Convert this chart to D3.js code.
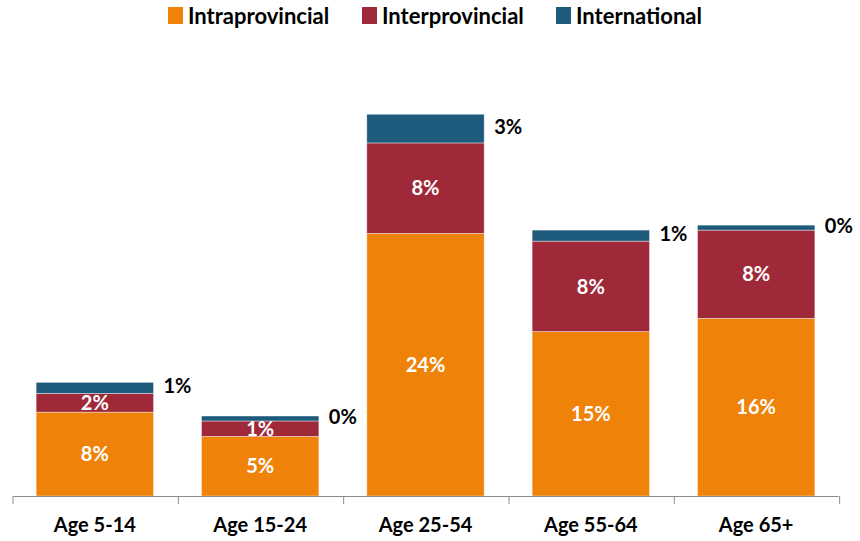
<!DOCTYPE html>
<html>
<head>
<meta charset="utf-8">
<script src="https://cdn.jsdelivr.net/npm/d3@7"></script>
<style>
  body { margin: 0; background: #fff; }
  text { font-family: Lato, "Open Sans", sans-serif; font-weight: bold; }
</style>
</head>
<body>
<svg id="chart" width="860" height="541"></svg>
<script>
// data (percent)
const ageGroups = ["Age 5-14", "Age 15-24", "Age 25-54", "Age 55-64", "Age 65+"];
const intraprovincial = [7.6, 5.4, 23.8, 14.9, 16.1];
const interprovincial = [1.7, 1.4, 8.2, 8.2, 8.0];
const international = [1.0, 0.45, 2.6, 1.0, 0.45];
const seriesNames = ["Intraprovincial", "Interprovincial", "International"];
const seriesColors = ["#ef8209", "#9f2938", "#1e5a7c"];

const table = ageGroups.map((g, i) => ({
    group: g,
    Intraprovincial: intraprovincial[i],
    Interprovincial: interprovincial[i],
    International: international[i]
}));

var margin = {top: 165, right: 22, bottom: 45, left: 13},
    width = 860 - margin.left - margin.right,
    height = 541 - margin.top - margin.bottom;

const svg = d3.select("#chart");
const g = svg.append("g")
    .attr("transform", "translate(" + margin.left + "," + margin.top + ")");

const x = d3.scaleBand()
    .domain(ageGroups)
    .range([0, width])
    .paddingInner(0.29)
    .paddingOuter(0.14);

const y = d3.scaleLinear()
    .domain([0, 30])
    .range([height, 0]);

const color = d3.scaleOrdinal().domain(seriesNames).range(seriesColors);

const stacked = d3.stack().keys(seriesNames)(table);

const layers = g.selectAll("g.layer")
    .data(stacked)
    .enter().append("g")
    .attr("class", "layer")
    .style("fill", d => color(d.key));

layers.selectAll("rect")
    .data(d => d)
    .enter().append("rect")
    .attr("x", d => x(d.data.group))
    .attr("y", d => y(d[1]))
    .attr("width", x.bandwidth())
    .attr("height", d => y(d[0]) - y(d[1]))
    .style("stroke", "rgba(255,255,255,0.5)")
    .style("stroke-width", 0.8);

const fmt = v => Math.round(v) + "%";

// labels inside the lower two series
stacked.slice(0, 2).forEach(layer => {
    g.selectAll(null)
        .data(layer)
        .enter().append("text")
        .attr("x", d => x(d.data.group) + x.bandwidth() / 2)
        .attr("y", d => (y(d[0]) + y(d[1])) / 2)
        .attr("dy", "0.36em")
        .attr("text-anchor", "middle")
        .attr("font-size", 20)
        .attr("fill", "#fff")
        .text(d => fmt(d[1] - d[0]));
});

// labels to the right of the international segment
g.selectAll(null)
    .data(stacked[2])
    .enter().append("text")
    .attr("x", d => x(d.data.group) + x.bandwidth() + 10)
    .attr("y", d => (y(d[0]) + y(d[1])) / 2 - 2)
    .attr("dy", "0.36em")
    .attr("font-size", 20)
    .attr("fill", "#000")
    .text(d => fmt(d[1] - d[0]));

// axis
const axis = g.append("g")
    .attr("transform", "translate(0," + height + ")")
    .call(d3.axisBottom(x).tickSize(0).tickPadding(22));
axis.select(".domain").attr("stroke", "#8c8c8c");
axis.selectAll("text")
    .attr("font-size", 20)
    .attr("fill", "#000")
    .style("font-family", "Lato, 'Open Sans', sans-serif")
    .style("font-weight", "bold");

// tick marks between categories
const step = x.step();
const bounds = d3.range(ageGroups.length + 1).map(i => x(ageGroups[0]) - x.paddingOuter() * step + i * step);
g.selectAll("line.sep")
    .data(bounds)
    .enter().append("line")
    .attr("class", "sep")
    .attr("x1", d => d).attr("x2", d => d)
    .attr("y1", height).attr("y2", height + 8)
    .attr("stroke", "#8c8c8c");

// legend
const legendX = [168, 362, 556];
const legend = svg.append("g").selectAll("g")
    .data(seriesNames)
    .enter().append("g")
    .attr("transform", (d, i) => "translate(" + legendX[i] + ",7)");
legend.append("rect")
    .attr("width", 15).attr("height", 17)
    .style("fill", d => color(d));
legend.append("text")
    .attr("x", 20).attr("y", 17)
    .attr("font-size", 22)
    .attr("fill", "#000")
    .text(d => d);
</script>
</body>
</html>
